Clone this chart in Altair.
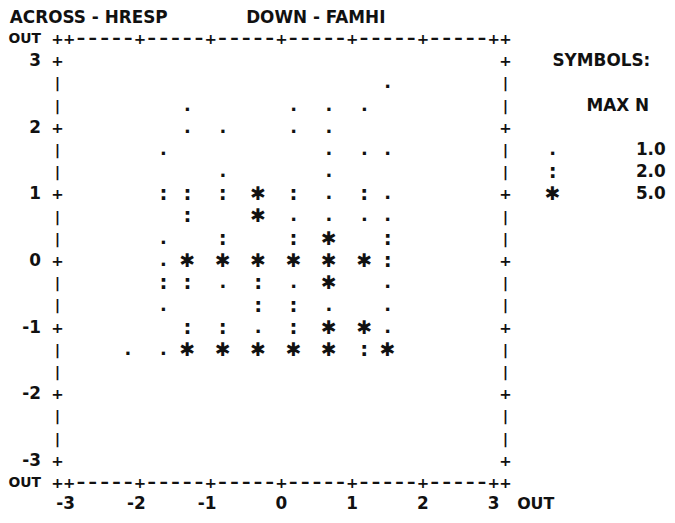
import altair as alt
import pandas as pd

# ---------------- data ----------------
# ACROSS = HRESP (x), DOWN = FAMHI (y); symbol = plotting character
hresp = [
    1.5,
    -1.33, 0.17, 0.67, 1.17,
    -1.33, -0.83, 0.17, 0.67,
    -1.67, 0.67, 1.17, 1.5,
    -0.83, 0.67,
    -1.67, -1.33, -0.83, -0.33, 0.17, 0.67, 1.17, 1.5,
    -1.33, -0.33, 0.17, 0.67, 1.17, 1.5,
    -1.67, -0.83, 0.17, 0.67, 1.5,
    -1.67, -1.33, -0.83, -0.33, 0.17, 0.67, 1.17, 1.5,
    -1.67, -1.33, -0.83, -0.33, 0.17, 0.67, 1.5,
    -1.67, -0.33, 0.17, 0.67, 1.5,
    -1.33, -0.83, -0.33, 0.17, 0.67, 1.17, 1.5,
    -2.17, -1.67, -1.33, -0.83, -0.33, 0.17, 0.67, 1.17, 1.5,
]
famhi = [
    2.67,
    2.33, 2.33, 2.33, 2.33,
    2.0, 2.0, 2.0, 2.0,
    1.67, 1.67, 1.67, 1.67,
    1.33, 1.33,
    1.0, 1.0, 1.0, 1.0, 1.0, 1.0, 1.0, 1.0,
    0.67, 0.67, 0.67, 0.67, 0.67, 0.67,
    0.33, 0.33, 0.33, 0.33, 0.33,
    0.0, 0.0, 0.0, 0.0, 0.0, 0.0, 0.0, 0.0,
    -0.33, -0.33, -0.33, -0.33, -0.33, -0.33, -0.33,
    -0.67, -0.67, -0.67, -0.67, -0.67,
    -1.0, -1.0, -1.0, -1.0, -1.0, -1.0, -1.0,
    -1.33, -1.33, -1.33, -1.33, -1.33, -1.33, -1.33, -1.33, -1.33,
]
symbol = [
    ".",
    ".", ".", ".", ".",
    ".", ".", ".", ".",
    ".", ".", ".", ".",
    ".", ".",
    ":", ":", ":", "*", ":", ".", ":", ".",
    ":", "*", ".", ".", ".", ".",
    ".", ":", ":", "*", ":",
    ".", "*", "*", "*", "*", "*", "*", ":",
    ":", ":", ".", ":", ".", "*", ".",
    ".", ":", ":", ".", ".",
    ":", ":", ".", ":", "*", "*", ".",
    ".", ".", "*", "*", "*", "*", "*", ":", "*",
]

x_ticks = [-3, -2, -1, 0, 1, 2, 3]
y_ticks = [3, 2, 1, 0, -1, -2, -3]
out_label = "OUT"
header_across = "ACROSS - HRESP"
header_down = "DOWN - FAMHI"
legend_title = "SYMBOLS:"
legend_sub = "MAX N"
legend_symbols = [".", ":", "*"]
legend_max_n = ["1.0", "2.0", "5.0"]

# ---------------- layout (printer grid) ----------------
W, H = 665, 507
X0, PXX = 276, 71.4      # chart px of HRESP 0, px per unit
Y0, PXY = 253, 67.2      # chart px of FAMHI 0, px per unit
COL = 1 / 6              # one character cell along HRESP
ROW = 1 / 3              # one print line along FAMHI
x_dom = [-X0 / PXX, (W - X0) / PXX]
y_dom = [-(H - Y0) / PXY, Y0 / PXY]

xs = alt.Scale(domain=x_dom, nice=False, zero=False)
ys = alt.Scale(domain=y_dom, nice=False, zero=False)
FONT = "DejaVu Sans"
INK = "#111111"


def layer(df, size, align="center", text=None, weight="bold"):
    m = alt.Chart(df).mark_text(font=FONT, fontWeight=weight, color=INK,
                                baseline="middle", align=align,
                                fontSize=size)
    enc = dict(x=alt.X("x:Q", scale=xs, axis=None),
               y=alt.Y("y:Q", scale=ys, axis=None))
    enc["text"] = alt.value(text) if text is not None else alt.Text("t:N")
    return m.encode(**enc)


# frame built from the tick grid: 6 cells per HRESP unit, 3 lines per FAMHI unit
frame = []
for c in range(-19, 20):
    ch = "+" if (abs(c) == 19 or c % 6 == 0) else "-"
    for r in (10, -10):
        frame.append({"x": c * COL, "y": r * ROW, "t": ch})
for r in range(-9, 10):
    ch = "+" if r % 3 == 0 else "|"
    for c in (-19, 19):
        frame.append({"x": c * COL, "y": r * ROW, "t": ch})
frame = pd.DataFrame(frame)
plus_df = frame[frame.t == "+"]
dash_df = frame[frame.t == "-"]
bar_df = frame[frame.t == "|"]

pts = pd.DataFrame({"x": hresp, "y": famhi, "t": symbol})

ylab = pd.DataFrame({"x": [-20.4 * COL] * len(y_ticks),
                     "y": y_ticks,
                     "t": [str(v) for v in y_ticks]})
yout = pd.DataFrame({"x": [-3.86, -3.86], "y": [10 * ROW, -10 * ROW],
                     "t": [out_label, out_label]})
xlab = pd.DataFrame({"x": [v + 0.08 for v in x_ticks],
                     "y": [-10.95 * ROW] * len(x_ticks),
                     "t": [str(v) for v in x_ticks]})
xout = pd.DataFrame({"x": [3.33], "y": [-10.95 * ROW], "t": [out_label]})
head = pd.DataFrame({"x": [-3.84, -0.5], "y": [3.65, 3.65],
                     "t": [header_across, header_down]})
leg_head = pd.DataFrame({"x": [3.83, 4.31], "y": [9 * ROW, 7 * ROW],
                         "t": [legend_title, legend_sub]})
leg_rows = [5 * ROW, 4 * ROW, 3 * ROW]
leg_sym = pd.DataFrame({"x": [23 * COL] * 3, "y": leg_rows, "t": legend_symbols})
leg_num = pd.DataFrame({"x": [5.43] * 3, "y": leg_rows, "t": legend_max_n})


def symbols(df):
    return [
        layer(df[df.t == "."], 18),
        layer(df[df.t == ":"], 20),
        layer(df[df.t == "*"], 19, text="\u2731", weight="normal"),
    ]


layers = [
    layer(plus_df, 15),
    layer(dash_df, 17, text="\u2013"),
    layer(bar_df, 15),
    *symbols(pts),
    layer(ylab, 17, align="right"),
    layer(yout, 14, align="left"),
    layer(xlab, 17, align="right"),
    layer(xout, 16, align="left"),
    layer(head, 17, align="left"),
    layer(leg_head, 17, align="left"),
    *symbols(leg_sym),
    layer(leg_num, 17, align="right"),
]

chart = alt.layer(*layers).properties(
    width=W, height=H,
    autosize=alt.AutoSizeParams(type="none"),
    padding=0,
).configure_view(stroke=None)

chart.save("out.html", embed_options={"renderer": "svg", "actions": False})
